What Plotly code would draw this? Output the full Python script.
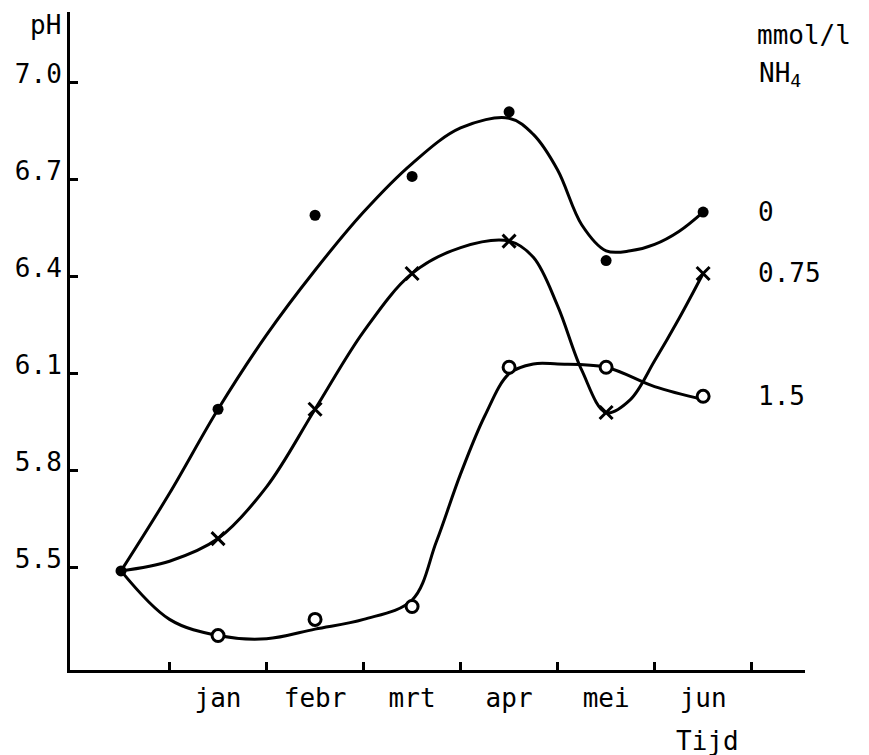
import plotly.graph_objects as go

# ---- data ----
positions = [0, 1, 2, 3, 4, 5, 6]
months = ["", "jan", "febr", "mrt", "apr", "mei", "jun"]
start_ph = 5.49
ph_0 = [5.99, 6.59, 6.71, 6.91, 6.45, 6.60]      # 0 mmol/l NH4 (jan..jun)
ph_075 = [5.59, 5.99, 6.41, 6.51, 5.98, 6.41]    # 0.75 mmol/l
ph_15 = [5.29, 5.34, 5.38, 6.12, 6.12, 6.03]     # 1.5 mmol/l

# hand-drawn fitted curves
fit_x_0 = [0, 0.5, 1, 1.5, 2, 2.5, 3, 3.5, 4, 4.25, 4.5, 4.75, 5, 5.25, 5.5, 5.75, 6]
fit_y_0 = [5.49, 5.73, 5.99, 6.22, 6.42, 6.60, 6.75, 6.86, 6.89, 6.84, 6.73, 6.56, 6.48, 6.48, 6.50, 6.54, 6.60]
fit_x_075 = [0, 0.5, 1, 1.5, 2, 2.5, 3, 3.5, 4, 4.25, 4.5, 4.75, 5, 5.25, 5.5, 5.75, 6]
fit_y_075 = [5.49, 5.52, 5.59, 5.75, 5.99, 6.23, 6.41, 6.49, 6.51, 6.46, 6.31, 6.11, 5.98, 6.02, 6.14, 6.27, 6.41]
fit_x_15 = [0, 0.5, 1, 1.5, 2, 2.5, 3, 3.25, 3.5, 3.75, 4, 4.25, 4.5, 5, 5.5, 6]
fit_y_15 = [5.49, 5.34, 5.29, 5.28, 5.31, 5.34, 5.40, 5.58, 5.79, 5.97, 6.10, 6.13, 6.13, 6.12, 6.06, 6.02]

series_labels = ["0", "0.75", "1.5"]
y_ticks = [5.5, 5.8, 6.1, 6.4, 6.7, 7.0]
x_minor_ticks = [0.5, 1.5, 2.5, 3.5, 4.5, 5.5, 6.5]

FONT = "DejaVu Sans Mono"
FS = 26
BLACK = "black"

fig = go.Figure()

for fx, fy in [(fit_x_0, fit_y_0), (fit_x_075, fit_y_075), (fit_x_15, fit_y_15)]:
    fig.add_trace(go.Scatter(x=fx, y=fy, mode="lines",
                             line=dict(color=BLACK, width=3, shape="spline", smoothing=1.0),
                             hoverinfo="skip", showlegend=False))

# markers
fig.add_trace(go.Scatter(x=positions, y=[start_ph] + ph_0, mode="markers",
                         marker=dict(symbol="circle", size=11, color=BLACK),
                         showlegend=False))
fig.add_trace(go.Scatter(x=positions[1:], y=ph_075, mode="markers",
                         marker=dict(symbol="x-thin", size=13, color=BLACK,
                                     line=dict(width=3, color=BLACK)),
                         showlegend=False))
fig.add_trace(go.Scatter(x=positions[1:], y=ph_15, mode="markers",
                         marker=dict(symbol="circle", size=12, color="white",
                                     line=dict(width=3, color=BLACK)),
                         showlegend=False))

annotations = []
# series labels at right, aligned with last values
for lab, vals in zip(series_labels, [ph_0, ph_075, ph_15]):
    annotations.append(dict(x=6.54, y=vals[-1], xref="x", yref="y", text=lab,
                            showarrow=False, xanchor="left", yanchor="middle",
                            font=dict(family=FONT, size=FS, color=BLACK)))
annotations += [
    dict(x=-0.0095, y=0.98, xref="paper", yref="paper", text="pH", showarrow=False,
         xanchor="right", yanchor="middle", font=dict(family=FONT, size=FS, color=BLACK)),
    dict(x=0.932, y=0.965, xref="paper", yref="paper", text="mmol/l", showarrow=False,
         xanchor="left", yanchor="middle", font=dict(family=FONT, size=FS, color=BLACK)),
    dict(x=0.935, y=0.905, xref="paper", yref="paper", text="NH<sub>4</sub>", showarrow=False,
         xanchor="left", yanchor="middle", font=dict(family=FONT, size=FS, color=BLACK)),
    dict(x=6.05, y=-0.108, xref="x", yref="paper", text="Tijd", showarrow=False,
         xanchor="center", yanchor="middle", font=dict(family=FONT, size=FS, color=BLACK)),
]

# page body adds an 8px offset; margins compensate so the axes land where the reference has them
fig.update_layout(
    width=869, height=755,
    margin=dict(l=62, r=72, t=4, b=93, autoexpand=False),
    paper_bgcolor="white", plot_bgcolor="white",
    font=dict(family=FONT, size=FS, color=BLACK),
    annotations=annotations,
    showlegend=False,
)
fig.update_xaxes(
    range=[-0.526, 7.05], showgrid=False, zeroline=False, automargin=False,
    showline=True, linecolor=BLACK, linewidth=3,
    tickvals=positions[1:], ticktext=months[1:], ticks="",
    ticklabelstandoff=3,
    tickfont=dict(family=FONT, size=FS, color=BLACK),
    minor=dict(tickvals=x_minor_ticks, ticks="inside", ticklen=8, tickwidth=3, tickcolor=BLACK),
)
fig.update_yaxes(
    range=[5.1835, 7.2187], showgrid=False, zeroline=False, automargin=False,
    showline=True, linecolor=BLACK, linewidth=3,
    tickvals=y_ticks, ticktext=[f"{v:.1f}" for v in y_ticks],
    ticks="inside", ticklen=8, tickwidth=3, tickcolor=BLACK,
    ticklabelshift=-9, ticklabelstandoff=0,
    tickfont=dict(family=FONT, size=FS, color=BLACK),
)

fig.write_html("out.html")
